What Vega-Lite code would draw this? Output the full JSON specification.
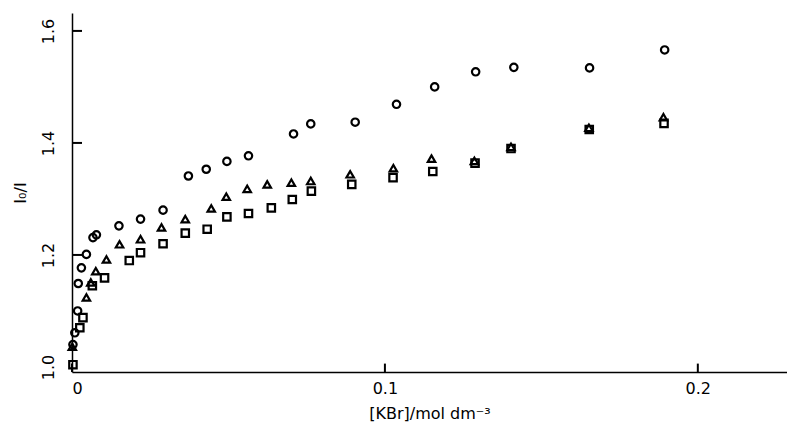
{
  "$schema": "https://vega.github.io/schema/vega-lite/v6.json",
  "width": 715,
  "height": 359,
  "autosize": {"type": "none"},
  "padding": {"left": 72, "top": 13, "right": 0, "bottom": 57},
  "background": "white",
  "config": {"view": {"stroke": null}, "font": "DejaVu Sans"},
  "layer": [
    {
      "data": {"values": [{"t": 0}, {"t": 0.1}, {"t": 0.2}]},
      "mark": {"type": "rule", "color": "black", "strokeWidth": 2},
      "encoding": {
        "x": {"field": "t", "type": "quantitative", "scale": {"domain": [0, 0.2285], "nice": false, "zero": false}},
        "y": {"datum": 0.991, "type": "quantitative", "scale": {"domain": [0.991, 1.632], "nice": false, "zero": false}},
        "y2": {"datum": 1.006}
      }
    },
    {
      "data": {"values": [{"t": 1.2}, {"t": 1.4}, {"t": 1.6}]},
      "mark": {"type": "rule", "color": "black", "strokeWidth": 2},
      "encoding": {
        "y": {"field": "t", "type": "quantitative"},
        "x": {"datum": 0, "type": "quantitative"},
        "x2": {"datum": 0.0032}
      }
    },
    {
      "data": {"values": [
        {"s": "A", "x": 0.0003, "y": 1.040},
        {"s": "A", "x": 0.0009, "y": 1.061},
        {"s": "A", "x": 0.0018, "y": 1.100},
        {"s": "A", "x": 0.0020, "y": 1.149},
        {"s": "A", "x": 0.0030, "y": 1.177},
        {"s": "A", "x": 0.0046, "y": 1.201},
        {"s": "A", "x": 0.0067, "y": 1.231},
        {"s": "A", "x": 0.0078, "y": 1.236},
        {"s": "A", "x": 0.0150, "y": 1.252},
        {"s": "A", "x": 0.0219, "y": 1.264},
        {"s": "A", "x": 0.0291, "y": 1.280},
        {"s": "A", "x": 0.0372, "y": 1.341},
        {"s": "A", "x": 0.0429, "y": 1.353},
        {"s": "A", "x": 0.0495, "y": 1.367},
        {"s": "A", "x": 0.0564, "y": 1.377},
        {"s": "A", "x": 0.0708, "y": 1.416},
        {"s": "A", "x": 0.0763, "y": 1.434},
        {"s": "A", "x": 0.0905, "y": 1.437},
        {"s": "A", "x": 0.1037, "y": 1.469},
        {"s": "A", "x": 0.1159, "y": 1.500},
        {"s": "A", "x": 0.1290, "y": 1.527},
        {"s": "A", "x": 0.1412, "y": 1.535},
        {"s": "A", "x": 0.1654, "y": 1.534},
        {"s": "A", "x": 0.1894, "y": 1.566},
        {"s": "B", "x": 0.0001, "y": 1.036},
        {"s": "B", "x": 0.0046, "y": 1.124},
        {"s": "B", "x": 0.0060, "y": 1.151},
        {"s": "B", "x": 0.0076, "y": 1.171},
        {"s": "B", "x": 0.0110, "y": 1.192},
        {"s": "B", "x": 0.0152, "y": 1.219},
        {"s": "B", "x": 0.0219, "y": 1.228},
        {"s": "B", "x": 0.0286, "y": 1.249},
        {"s": "B", "x": 0.0362, "y": 1.264},
        {"s": "B", "x": 0.0445, "y": 1.283},
        {"s": "B", "x": 0.0493, "y": 1.304},
        {"s": "B", "x": 0.0560, "y": 1.318},
        {"s": "B", "x": 0.0624, "y": 1.326},
        {"s": "B", "x": 0.0701, "y": 1.329},
        {"s": "B", "x": 0.0763, "y": 1.332},
        {"s": "B", "x": 0.0889, "y": 1.344},
        {"s": "B", "x": 0.1027, "y": 1.355},
        {"s": "B", "x": 0.1149, "y": 1.372},
        {"s": "B", "x": 0.1286, "y": 1.368},
        {"s": "B", "x": 0.1403, "y": 1.393},
        {"s": "B", "x": 0.1652, "y": 1.427},
        {"s": "B", "x": 0.1890, "y": 1.446},
        {"s": "C", "x": 0.0003, "y": 1.004},
        {"s": "C", "x": 0.0025, "y": 1.070},
        {"s": "C", "x": 0.0035, "y": 1.088},
        {"s": "C", "x": 0.0065, "y": 1.145},
        {"s": "C", "x": 0.0104, "y": 1.159},
        {"s": "C", "x": 0.0183, "y": 1.190},
        {"s": "C", "x": 0.0219, "y": 1.204},
        {"s": "C", "x": 0.0291, "y": 1.220},
        {"s": "C", "x": 0.0362, "y": 1.239},
        {"s": "C", "x": 0.0432, "y": 1.246},
        {"s": "C", "x": 0.0495, "y": 1.268},
        {"s": "C", "x": 0.0564, "y": 1.274},
        {"s": "C", "x": 0.0637, "y": 1.284},
        {"s": "C", "x": 0.0704, "y": 1.299},
        {"s": "C", "x": 0.0765, "y": 1.314},
        {"s": "C", "x": 0.0894, "y": 1.326},
        {"s": "C", "x": 0.1026, "y": 1.338},
        {"s": "C", "x": 0.1153, "y": 1.349},
        {"s": "C", "x": 0.1288, "y": 1.364},
        {"s": "C", "x": 0.1403, "y": 1.390},
        {"s": "C", "x": 0.1653, "y": 1.424},
        {"s": "C", "x": 0.1892, "y": 1.435}
      ]},
      "mark": {"type": "point", "filled": false, "stroke": "black", "strokeWidth": 2.2, "size": 55, "opacity": 1},
      "encoding": {
        "x": {
          "field": "x", "type": "quantitative",
          "axis": {
            "values": [0, 0.1, 0.2], "format": "~g", "grid": false, "ticks": false,
            "domainColor": "black", "domainWidth": 1.5,
            "labelPadding": 8, "labelFontSize": 16, "labelColor": "black",
            "title": "[KBr]/mol dm⁻³", "titleFontSize": 16, "titleFontWeight": "normal",
            "titleColor": "black", "titlePadding": 9
          }
        },
        "y": {
          "field": "y", "type": "quantitative",
          "axis": {
            "values": [1.0, 1.2, 1.4, 1.6], "format": ".1f", "grid": false, "ticks": false,
            "domainColor": "black", "domainWidth": 1.5,
            "labelAngle": 270, "labelAlign": "center", "labelBaseline": "bottom",
            "labelPadding": 16, "labelFontSize": 16, "labelColor": "black",
            "title": "I₀/I", "titleFontSize": 16, "titleFontWeight": "normal",
            "titleColor": "black", "titlePadding": 12
          }
        },
        "shape": {
          "field": "s", "type": "nominal",
          "scale": {"domain": ["A", "B", "C"], "range": ["circle", "triangle-up", "square"]},
          "legend": null
        }
      }
    }
  ]
}
